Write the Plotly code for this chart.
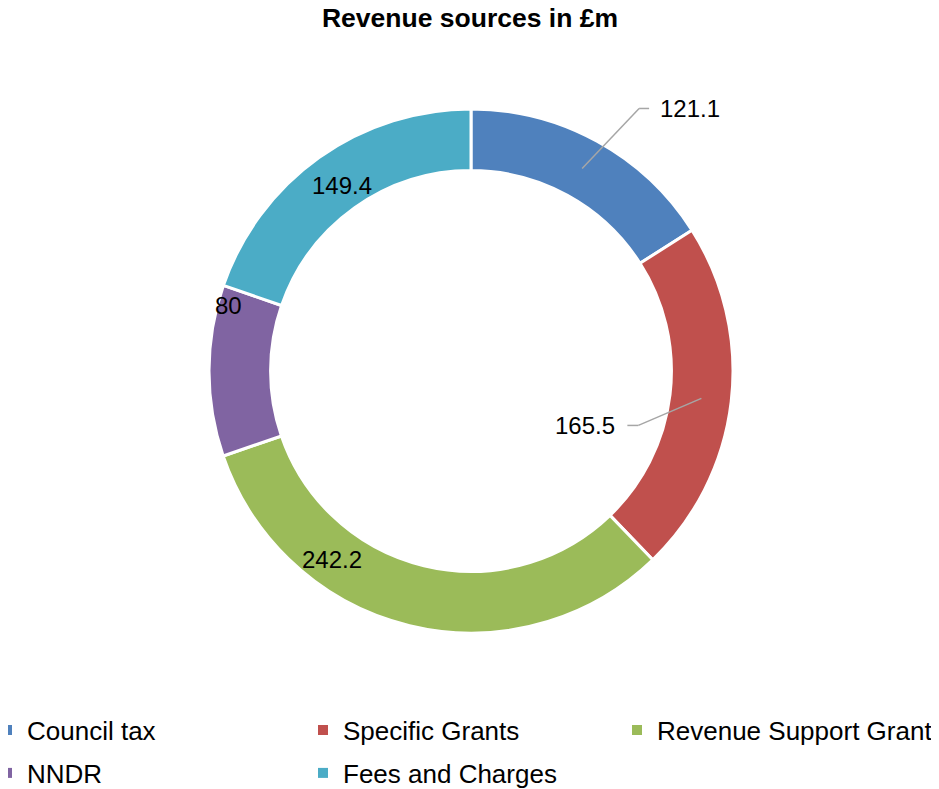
import math
import plotly.graph_objects as go

# ---- data ----
categories = ["Council tax", "Specific Grants", "Revenue Support Grant", "NNDR", "Fees and Charges"]
values = [121.1, 165.5, 242.2, 80, 149.4]
label_texts = ["121.1", "165.5", "242.2", "80", "149.4"]
colors = ["#4F81BD", "#C0504D", "#9BBB59", "#8064A2", "#4BACC6"]

# ---- layout geometry (pixels, in reference-screen coordinates) ----
OFF = 8                      # page body margin offset
W, H = 939 - OFF, 789 - OFF  # figure size
CX, CY, R = 471, 371, 262
HOLE = 0.765

# label placement: fraction along slice, radius (px)
label_frac = [0.5, 0.5, 0.698, 0.893, 0.51]
label_rad = [231, 232, 234.6, 251.5, 226]
leader = [True, True, False, False, False]
elbow_off = [(57, -60), (-63, 27), None, None, None]
tail = [10, -11, 0, 0, 0]

# legend placement (text left edge, text centre y) per entry
legend_text_x = [27, 343, 657, 27, 343]
legend_row_y = [730, 730, 730, 773, 773]

def px2paper(x, y):
    return (x - OFF) / W, 1 - (y - OFF) / H

def polar(angle_deg, r):
    a = math.radians(angle_deg)
    return CX + r * math.sin(a), CY - r * math.cos(a)

total = sum(values)
fig = go.Figure()
fig.add_trace(go.Pie(
    labels=categories, values=values, sort=False, direction="clockwise",
    rotation=0, hole=HOLE, textinfo="none", hoverinfo="label+value", showlegend=False,
    marker=dict(colors=colors, line=dict(color="white", width=3)),
    domain=dict(x=[(CX - R - OFF) / W, (CX + R - OFF) / W],
                y=[1 - (CY + R - OFF) / H, 1 - (CY - R - OFF) / H]),
))

# legend entries (one legend per entry for exact placement)
legend_layouts = {}
for i, cat in enumerate(categories):
    key = "legend" if i == 0 else f"legend{i + 1}"
    fig.add_trace(go.Scatter(x=[None], y=[None], mode="markers", name=cat,
                             marker=dict(symbol="square", size=10, color=colors[i]),
                             legend=key, showlegend=True, hoverinfo="skip"))
    lx, ly = px2paper(legend_text_x[i] - 40, legend_row_y[i])
    legend_layouts[key] = dict(x=lx, y=ly, xanchor="left", yanchor="middle",
                               orientation="h", font=dict(size=26, color="black"),
                               bgcolor="rgba(0,0,0,0)", borderwidth=0)

annotations = []
shapes = []
cum = 0
for i, v in enumerate(values):
    ang = (cum + v * label_frac[i]) / total * 360
    cum += v
    x, y = polar(ang, label_rad[i])
    if leader[i]:
        ex, ey = x + elbow_off[i][0], y + elbow_off[i][1]
        tx, ty = ex + tail[i], ey
        for (x0, y0, x1, y1) in [(x, y, ex, ey), (ex, ey, tx, ty)]:
            a0, b0 = px2paper(x0, y0)
            a1, b1 = px2paper(x1, y1)
            shapes.append(dict(type="line", xref="paper", yref="paper",
                               x0=a0, y0=b0, x1=a1, y1=b1,
                               line=dict(color="#A6A6A6", width=1.5)))
        gap = 9 if tail[i] > 0 else -10
        ax, ay = px2paper(tx + gap, ty)
        annotations.append(dict(x=ax, y=ay, xref="paper", yref="paper", text=label_texts[i],
                                showarrow=False, xanchor="left" if tail[i] > 0 else "right",
                                yanchor="middle", font=dict(size=24, color="black")))
    else:
        ax, ay = px2paper(x, y)
        annotations.append(dict(x=ax, y=ay, xref="paper", yref="paper", text=label_texts[i],
                                showarrow=False, xanchor="center", yanchor="middle",
                                font=dict(size=24, color="black")))

tx_, _ = px2paper(470, 0)
fig.update_layout(
    width=W, height=H,
    margin=dict(l=0, r=0, t=0, b=0, autoexpand=False),
    paper_bgcolor="white", plot_bgcolor="white",
    font=dict(family="Liberation Sans, Arial, sans-serif", color="black"),
    title=dict(text="<b>Revenue sources in £m</b>", x=tx_, xanchor="center",
               y=1, yanchor="top", font=dict(size=26.5, color="black")),
    xaxis=dict(visible=False), yaxis=dict(visible=False),
    showlegend=True,
    annotations=annotations, shapes=shapes,
    **legend_layouts,
)
fig.write_html("out.html")
